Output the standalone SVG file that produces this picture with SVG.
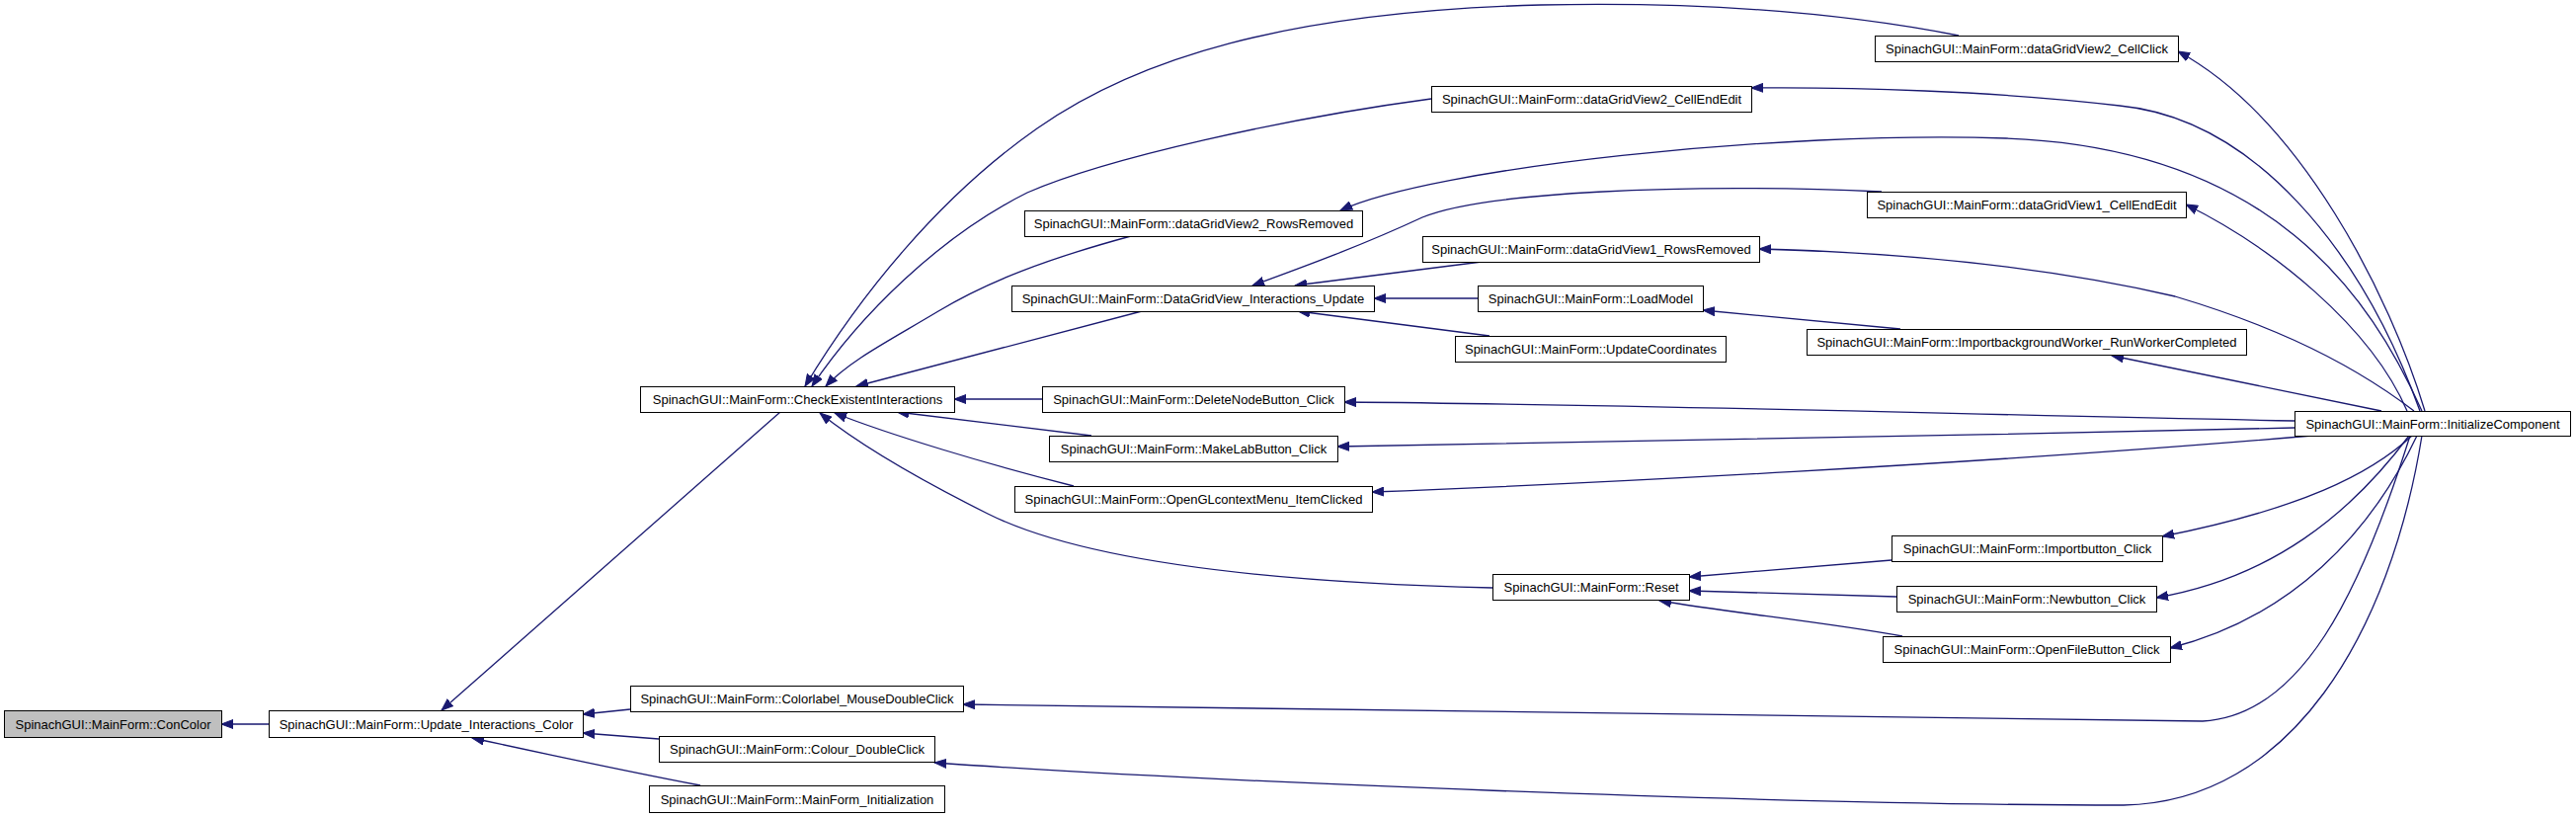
<svg xmlns="http://www.w3.org/2000/svg" width="2608" height="827" viewBox="0 0 2608 827">
<style>
.n rect{fill:#fff;stroke:#000;stroke-width:1}
.n.g rect{fill:#bfbfbf}
.n text{font-family:"Liberation Sans",Arial,sans-serif;font-size:13px;text-anchor:middle;fill:#000}
.e path{fill:none;stroke:#191970;stroke-width:1.3;marker-end:url(#arr)}
</style>
<defs>
<marker id="arr" markerWidth="13" markerHeight="10" refX="12" refY="5" orient="auto" markerUnits="userSpaceOnUse">
<path d="M0,0.5 L12,5 L0,9.5 z" fill="#191970" stroke="#191970" stroke-width="1"/>
</marker>
</defs>
<rect width="2608" height="827" fill="#fff"/>
<g id="edges" class="e">
<path d="M272,733 L224,733"/>
<path d="M790,417 L447,719"/>
<path d="M638,718 L590,723"/>
<path d="M667,748 L590,742"/>
<path d="M709,795 Q620,778 478,747"/>
<path d="M1055,404 L966,404"/>
<path d="M1105,441 L908,417"/>
<path d="M1087,492 C1000,470 900,440 845,418"/>
<path d="M1511,595 C1300,590 1100,570 1000,520 C930,485 870,450 830,418"/>
<path d="M1145,239 C1060,262 1000,285 950,315 C900,345 860,365 836,391"/>
<path d="M1156,315 L867,391"/>
<path d="M1983,36 C1850,10 1700,2 1560,5 C1300,12 1150,60 1050,130 C950,200 870,300 815,391"/>
<path d="M1449,100 C1300,120 1120,160 1040,195 C950,240 870,320 822,391"/>
<path d="M1508,264 L1311,289"/>
<path d="M1496,302 L1391,302"/>
<path d="M1508,340 L1314,315"/>
<path d="M1905,194 C1700,185 1500,195 1440,220 C1380,248 1320,270 1268,289"/>
<path d="M1924,333 L1724,314"/>
<path d="M1915,567 L1710,584"/>
<path d="M1920,604 L1710,598"/>
<path d="M1926,644 C1850,630 1750,620 1680,608"/>
<path d="M2455,416 C2420,300 2330,120 2205,52"/>
<path d="M2450,416 C2390,250 2280,120 2146,107 C2020,92 1870,88 1773,89"/>
<path d="M2452,416 C2400,300 2300,150 2031,140 C1800,132 1450,170 1357,213"/>
<path d="M2437,416 C2400,330 2300,250 2213,207"/>
<path d="M2444,416 C2367,357 2279,323 2202,300 C2050,265 1900,255 1781,252"/>
<path d="M2411,416 L2138,360"/>
<path d="M2323,426 C2000,420 1700,410 1361,407"/>
<path d="M2323,433 C2000,440 1700,447 1354,452"/>
<path d="M2341,441 C2000,470 1600,490 1389,498"/>
<path d="M2442,441 C2400,480 2330,515 2189,543"/>
<path d="M2439,441 C2380,520 2300,585 2183,605"/>
<path d="M2447,441 C2400,540 2320,625 2197,656"/>
<path d="M2440,441 C2390,600 2330,725 2230,730 L975,713"/>
<path d="M2452,441 C2420,640 2320,812 2150,815 C1800,815 1200,790 946,772"/>
</g>
<g id="n_concolor" class="n g"><rect x="4.5" y="719.5" width="220" height="27"/><text x="114.5" y="737.5">SpinachGUI::MainForm::ConColor</text></g>
<g id="n_update" class="n"><rect x="272.5" y="719.5" width="318" height="27"/><text x="431.5" y="737.5">SpinachGUI::MainForm::Update_Interactions_Color</text></g>
<g id="n_check" class="n"><rect x="648.5" y="391.5" width="318" height="26"/><text x="807.5" y="409">SpinachGUI::MainForm::CheckExistentInteractions</text></g>
<g id="n_delete" class="n"><rect x="1055.5" y="391.5" width="306" height="26"/><text x="1208.5" y="409">SpinachGUI::MainForm::DeleteNodeButton_Click</text></g>
<g id="n_makelab" class="n"><rect x="1062.5" y="441.5" width="292" height="26"/><text x="1208.5" y="459">SpinachGUI::MainForm::MakeLabButton_Click</text></g>
<g id="n_opengl" class="n"><rect x="1027.5" y="492.5" width="362" height="26"/><text x="1208.5" y="510">SpinachGUI::MainForm::OpenGLcontextMenu_ItemClicked</text></g>
<g id="n_rr2" class="n"><rect x="1037.5" y="213.5" width="342" height="26"/><text x="1208.5" y="231">SpinachGUI::MainForm::dataGridView2_RowsRemoved</text></g>
<g id="n_dgvu" class="n"><rect x="1024.5" y="289.5" width="367" height="26"/><text x="1208" y="307">SpinachGUI::MainForm::DataGridView_Interactions_Update</text></g>
<g id="n_rr1" class="n"><rect x="1440.5" y="239.5" width="341" height="26"/><text x="1611" y="257">SpinachGUI::MainForm::dataGridView1_RowsRemoved</text></g>
<g id="n_load" class="n"><rect x="1496.5" y="289.5" width="228" height="26"/><text x="1610.5" y="307">SpinachGUI::MainForm::LoadModel</text></g>
<g id="n_ucoord" class="n"><rect x="1473.5" y="340.5" width="274" height="26"/><text x="1610.5" y="358">SpinachGUI::MainForm::UpdateCoordinates</text></g>
<g id="n_cc2" class="n"><rect x="1898.5" y="36.5" width="307" height="26"/><text x="2052" y="54">SpinachGUI::MainForm::dataGridView2_CellClick</text></g>
<g id="n_cee2" class="n"><rect x="1449.5" y="87.5" width="324" height="26"/><text x="1611.5" y="105">SpinachGUI::MainForm::dataGridView2_CellEndEdit</text></g>
<g id="n_cee1" class="n"><rect x="1890.5" y="194.5" width="323" height="26"/><text x="2052" y="212">SpinachGUI::MainForm::dataGridView1_CellEndEdit</text></g>
<g id="n_ibw" class="n"><rect x="1829.5" y="333.5" width="445" height="26"/><text x="2052" y="351">SpinachGUI::MainForm::ImportbackgroundWorker_RunWorkerCompleted</text></g>
<g id="n_init" class="n"><rect x="2323.5" y="416.5" width="279" height="25"/><text x="2463" y="433.5">SpinachGUI::MainForm::InitializeComponent</text></g>
<g id="n_importbtn" class="n"><rect x="1915.5" y="542.5" width="274" height="26"/><text x="2052.5" y="560">SpinachGUI::MainForm::Importbutton_Click</text></g>
<g id="n_newbtn" class="n"><rect x="1920.5" y="593.5" width="263" height="26"/><text x="2052" y="611">SpinachGUI::MainForm::Newbutton_Click</text></g>
<g id="n_openfile" class="n"><rect x="1906.5" y="644.5" width="291" height="26"/><text x="2052" y="662">SpinachGUI::MainForm::OpenFileButton_Click</text></g>
<g id="n_reset" class="n"><rect x="1511.5" y="581.5" width="199" height="26"/><text x="1611" y="599">SpinachGUI::MainForm::Reset</text></g>
<g id="n_colorlabel" class="n"><rect x="638.5" y="694.5" width="337" height="26"/><text x="807" y="712">SpinachGUI::MainForm::Colorlabel_MouseDoubleClick</text></g>
<g id="n_colour" class="n"><rect x="667.5" y="745.5" width="279" height="26"/><text x="807" y="763">SpinachGUI::MainForm::Colour_DoubleClick</text></g>
<g id="n_mfinit" class="n"><rect x="657.5" y="795.5" width="299" height="27"/><text x="807" y="813.5">SpinachGUI::MainForm::MainForm_Initialization</text></g>
</svg>
